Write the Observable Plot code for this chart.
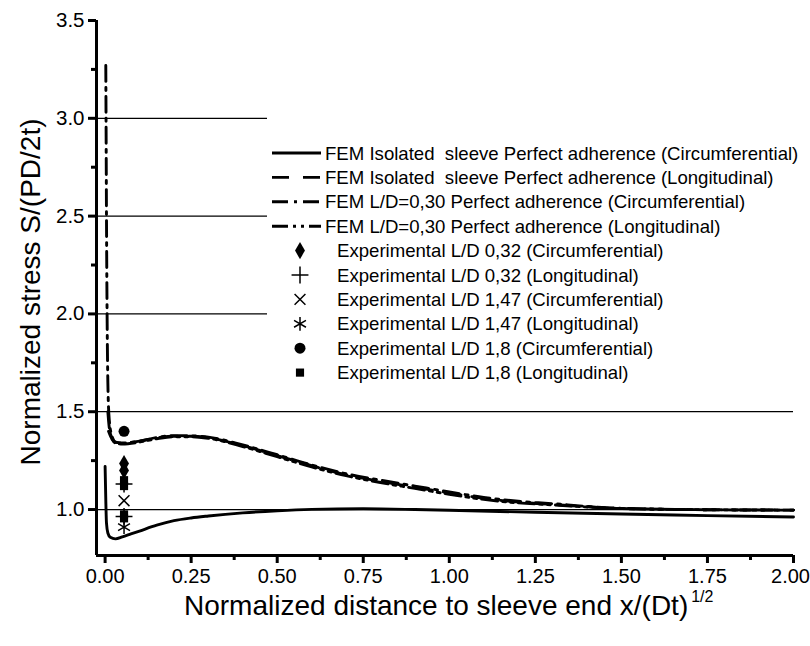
<!DOCTYPE html>
<html><head><meta charset="utf-8">
<script src="https://cdn.jsdelivr.net/npm/d3@7"></script>
<script src="https://cdn.jsdelivr.net/npm/@observablehq/plot@0.6"></script>
<style>body{margin:0;background:#fff}#chart{width:810px;height:646px}</style>
</head><body><div id="chart"></div>
<script>
// ---- data ----
const xIsoCirc = [0.000, 0.002, 0.004, 0.008, 0.015, 0.03, 0.05, 0.075, 0.10, 0.15, 0.20, 0.25, 0.30, 0.40, 0.50, 0.60, 0.75, 0.90, 1.00, 1.25, 1.50, 1.75, 2.00];
const yIsoCirc = [1.22, 1.05, 0.93, 0.88, 0.858, 0.85, 0.86, 0.875, 0.89, 0.92, 0.943, 0.957, 0.967, 0.983, 0.994, 1.001, 1.004, 1.000, 0.996, 0.986, 0.977, 0.969, 0.962];

const xIsoLong = [0.01, 0.02, 0.03, 0.05, 0.10, 0.15, 0.20, 0.25, 0.30, 0.40, 0.50, 0.60, 0.70, 0.80, 0.90, 1.00, 1.10, 1.20, 1.30, 1.40, 1.50, 1.75, 2.00];
const yIsoLong = [1.40, 1.36, 1.345, 1.34, 1.35, 1.366, 1.375, 1.375, 1.367, 1.327, 1.276, 1.224, 1.178, 1.144, 1.114, 1.085, 1.057, 1.038, 1.026, 1.014, 1.005, 0.999, 0.997];

const xLDCirc = [0.002, 0.003, 0.004, 0.006, 0.008, 0.012, 0.02, 0.03, 0.05, 0.10, 0.15, 0.20, 0.25, 0.30, 0.40, 0.50, 0.60, 0.70, 0.80, 0.90, 1.00, 1.10, 1.20, 1.30, 1.40, 1.50, 1.75, 2.00];
const yLDCirc = [3.27, 2.9, 2.5, 1.95, 1.65, 1.46, 1.375, 1.345, 1.34, 1.35, 1.368, 1.378, 1.377, 1.37, 1.33, 1.28, 1.228, 1.183, 1.15, 1.12, 1.09, 1.062, 1.042, 1.03, 1.016, 1.006, 0.999, 0.997];

const xLDLong = [0.008, 0.012, 0.02, 0.03, 0.05, 0.10, 0.15, 0.20, 0.25, 0.30, 0.40, 0.50, 0.60, 0.70, 0.80, 0.90, 1.00, 1.10, 1.20, 1.30, 1.40, 1.50, 1.75, 2.00];
const yLDLong = [1.50, 1.42, 1.365, 1.34, 1.335, 1.345, 1.362, 1.372, 1.372, 1.364, 1.322, 1.27, 1.218, 1.173, 1.138, 1.108, 1.078, 1.052, 1.034, 1.024, 1.013, 1.005, 0.999, 0.997];

const xDiamond = [0.055, 0.055];           const yDiamond = [1.235, 1.20];
const xPlus = [0.055, 0.055];              const yPlus = [1.13, 0.965];
const xTimes = [0.055];                    const yTimes = [1.045];
const xAsterisk = [0.055];                 const yAsterisk = [0.91];
const xCircle = [0.055];                   const yCircle = [1.40];
const xSquare = [0.055, 0.055, 0.055, 0.055]; const ySquare = [1.15, 1.12, 0.975, 0.955];

const xTicksMajor = [0, 0.25, 0.5, 0.75, 1.0, 1.25, 1.5, 1.75, 2.0];
const xTicksMinor = [0.125, 0.375, 0.625, 0.875, 1.125, 1.375, 1.625, 1.875];
const yTicksMajor = [1.0, 1.5, 2.0, 2.5, 3.0, 3.5];
const yTicksMinor = [1.25, 1.75, 2.25, 2.75, 3.25];
const gridValues = [1.0, 1.5, 2.0, 2.5, 3.0];

const lineLabels = [
  "FEM Isolated  sleeve Perfect adherence (Circumferential)",
  "FEM Isolated  sleeve Perfect adherence (Longitudinal)",
  "FEM L/D=0,30 Perfect adherence (Circumferential)",
  "FEM L/D=0,30 Perfect adherence (Longitudinal)"
];
const pointLabels = [
  "Experimental L/D 0,32 (Circumferential)",
  "Experimental L/D 0,32 (Longitudinal)",
  "Experimental L/D 1,47 (Circumferential)",
  "Experimental L/D 1,47 (Longitudinal)",
  "Experimental L/D 1,8 (Circumferential)",
  "Experimental L/D 1,8 (Longitudinal)"
];
const xTitle = "Normalized distance to sleeve end x/(Dt)";
const xTitleSup = "1/2";
const yTitle = "Normalized stress S/(PD/2t)";

// ---- build ----
const FONT = "'Liberation Sans', Arial, Helvetica, sans-serif";
const zip = (xs, ys) => xs.map((x, i) => ({x, y: ys[i]}));
const dashes = [null, "18,11", "16,6,3,6", "16,5,3,5,3,5"];
const lineSeries = [zip(xIsoCirc, yIsoCirc), zip(xIsoLong, yIsoLong), zip(xLDCirc, yLDCirc), zip(xLDLong, yLDLong)];
const pointSeries = [
  {data: zip(xDiamond, yDiamond), symbol: "diamond", fill: true, r: 5.2},
  {data: zip(xPlus, yPlus), symbol: "plus", fill: false, r: 5.5},
  {data: zip(xTimes, yTimes), symbol: "times", fill: false, r: 5},
  {data: zip(xAsterisk, yAsterisk), symbol: "asterisk", fill: false, r: 6.5},
  {data: zip(xCircle, yCircle), symbol: "circle", fill: true, r: 5.5},
  {data: zip(xSquare, ySquare), symbol: "square", fill: true, r: 4.6}
];
const X0 = -0.025, Y0 = 0.765;
const fmtX = d3.format(".2f");

const plot = Plot.plot({
  width: 810, height: 646,
  marginLeft: 96, marginRight: 17, marginTop: 20, marginBottom: 91,
  style: {fontFamily: FONT, color: "#000", background: "#fff", overflow: "visible"},
  x: {domain: [X0, 2.0]},
  y: {domain: [Y0, 3.5]},
  marks: [
    Plot.ruleY(gridValues, {stroke: "#000", strokeWidth: 1.3}),
    ...lineSeries.map((d, i) => Plot.line(d, {x: "x", y: "y", stroke: "#000", strokeWidth: 2.9, strokeDasharray: dashes[i], curve: "monotone-x"})),
    ...pointSeries.map(p => Plot.dot(p.data, {x: "x", y: "y", symbol: p.symbol, r: p.r,
      fill: p.fill ? "#000" : "none", stroke: p.fill ? "none" : "#000", strokeWidth: 1.5})),
    Plot.axisY(yTicksMajor, {tickSize: 8, tickPadding: 4, tickFormat: d3.format(".1f"), fontSize: 20.5, strokeWidth: 3, label: null}),
    Plot.axisY(yTicksMinor, {tickSize: 5, tickFormat: () => "", strokeWidth: 3, label: null}),
    Plot.axisX(xTicksMajor, {tickSize: 8, tickFormat: () => "", strokeWidth: 3, label: null}),
    Plot.axisX(xTicksMajor.slice(0, -1), {tickSize: 0, tickPadding: 13, tickFormat: fmtX, fontSize: 20, label: null}),
    Plot.axisX(xTicksMajor.slice(-1), {tickSize: 0, tickPadding: 13, tickFormat: fmtX, fontSize: 20, dx: -3, label: null}),
    Plot.axisX(xTicksMinor, {tickSize: 5, tickFormat: () => "", strokeWidth: 3, label: null}),
    Plot.ruleX([X0], {stroke: "#000", strokeWidth: 3}),
    Plot.ruleY([Y0], {stroke: "#000", strokeWidth: 3})
  ]
});
document.getElementById("chart").appendChild(plot);

// ---- legend & titles ----
const svg = d3.select(plot);
const lg = svg.append("g").attr("font-family", FONT).attr("font-size", 18.6).attr("text-anchor", "start");
lg.append("rect").attr("x", 267).attr("y", 104).attr("width", 540).attr("height", 292).attr("fill", "#fff");
const rowY = i => 153 + i * 24.4;
lineLabels.forEach((t, i) => {
  lg.append("line").attr("x1", 272).attr("x2", 321).attr("y1", rowY(i)).attr("y2", rowY(i))
    .attr("stroke", "#000").attr("stroke-width", 2.9).attr("stroke-dasharray", dashes[i] ? dashes[i].replace(/,/g, " ").replace("18 11", "17 14") : null);
  lg.append("text").attr("x", 325).attr("y", rowY(i)).attr("dy", "0.35em").attr("text-anchor", "start").text(t);
});
pointLabels.forEach((t, i) => {
  const p = pointSeries[i];
  const typ = {diamond: d3.symbolDiamond, plus: d3.symbolPlus, times: d3.symbolTimes, asterisk: d3.symbolAsterisk, circle: d3.symbolCircle, square: d3.symbolSquare}[p.symbol];
  const y = rowY(i + 4);
  lg.append("path").attr("transform", `translate(300,${y})`)
    .attr("d", d3.symbol(typ, Math.PI * p.r * p.r)())
    .attr("fill", p.fill ? "#000" : "none").attr("stroke", p.fill ? "none" : "#000").attr("stroke-width", 1.5);
  lg.append("text").attr("x", 337).attr("y", y).attr("dy", "0.35em").attr("text-anchor", "start").text(t);
});
const xt = svg.append("text").attr("font-family", FONT).attr("font-size", 28).attr("text-anchor", "start").attr("x", 184).attr("y", 615);
xt.append("tspan").text(xTitle);
xt.append("tspan").attr("font-size", 16).attr("dy", -13).attr("dx", 3).text(xTitleSup);
svg.append("text").attr("font-family", FONT).attr("font-size", 28).attr("text-anchor", "middle")
  .attr("transform", "translate(30,292) rotate(-90)").attr("dy", "0.35em").text(yTitle);
</script>
</body></html>
